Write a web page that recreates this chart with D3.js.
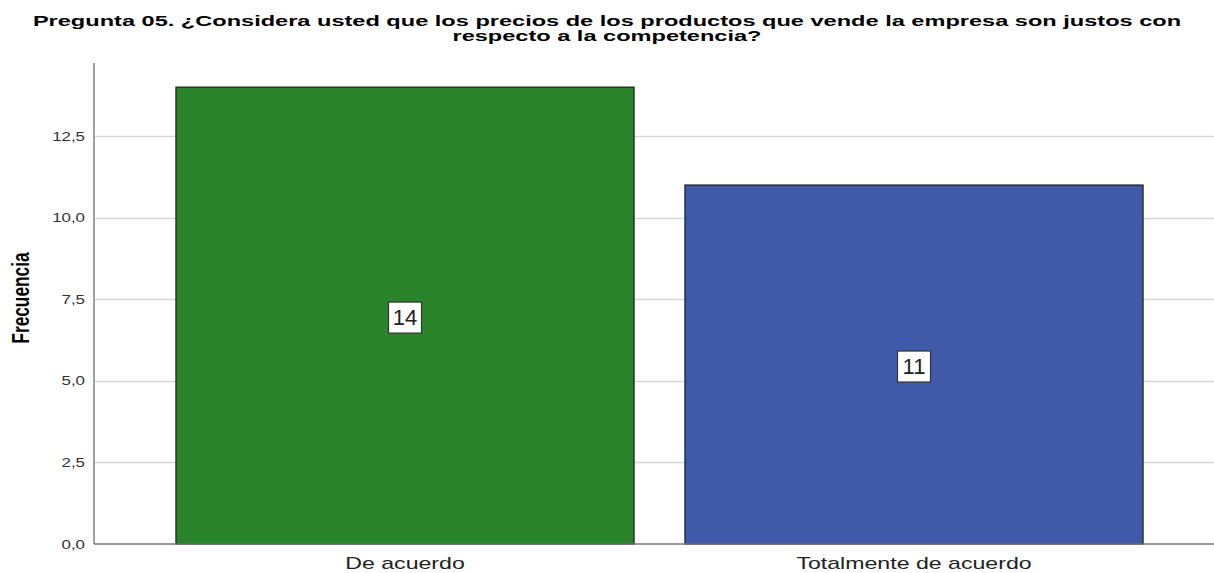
<!DOCTYPE html>
<html><head><meta charset="utf-8">
<script src="https://cdn.jsdelivr.net/npm/d3@7"></script>
<style>body{margin:0;background:#fff;} svg{display:block;font-family:"Liberation Sans",Arial,sans-serif;}</style>
</head><body>
<svg id="c" width="1214" height="573"></svg>
<script>
const categories = ["De acuerdo", "Totalmente de acuerdo"];
const values = [14, 11];
const colors = ["#2a852a", "#3e5aa8"];
const yTicks = [0, 2.5, 5, 7.5, 10, 12.5];
const titleLines = ["Pregunta 05. ¿Considera usted que los precios de los productos que vende la empresa son justos con", "respecto a la competencia?"];
const yLabel = "Frecuencia";

(function () {
const svg = d3.select("#c");
const pL = 94, pR = 1225, pT = 63, pB = 544;
const x = d3.scaleBand().domain(categories).range([pL, pR]).paddingInner(0.1).paddingOuter(0.161);
const y = d3.scaleLinear().domain([0, 14.74]).range([pB, pT]);
const fmt = d => d.toFixed(1).replace(".", ",");
const stretch = (sel, sx) => sel.each(function () {
  const w = this.getComputedTextLength();
  d3.select(this).attr("textLength", w * sx).attr("lengthAdjust", "spacingAndGlyphs");
});

// grid
svg.append("g").selectAll("line").data(yTicks.filter(d => d > 0)).join("line")
  .attr("x1", pL).attr("x2", 1214).attr("y1", d => Math.round(y(d)) + 0.5).attr("y2", d => Math.round(y(d)) + 0.5)
  .attr("stroke", "#d6d6d6").attr("stroke-width", 1.5);

// y axis
const ya = svg.append("g").attr("transform", `translate(${pL},0)`)
  .call(d3.axisLeft(y).tickValues(yTicks).tickFormat(fmt).tickSize(0).tickPadding(9));
ya.select(".domain").attr("stroke", "#a0a0a0").attr("stroke-width", 2).attr("d", `M0,${pT}V${pB}`);
ya.selectAll("text").attr("font-size", 12.5).attr("fill", "#333").attr("font-family", "Liberation Sans, Arial, sans-serif");
stretch(ya.selectAll("text"), 1.35);

// bars
svg.append("g").selectAll("rect").data(values).join("rect")
  .attr("x", (d, i) => x(categories[i])).attr("width", x.bandwidth())
  .attr("y", d => y(d)).attr("height", d => y(0) - y(d))
  .attr("fill", (d, i) => colors[i]).attr("stroke", "#1a1a1a").attr("stroke-width", 1.2);

// x axis
const xa = svg.append("g").attr("transform", `translate(0,${pB})`)
  .call(d3.axisBottom(x).tickSize(0).tickPadding(11));
xa.select(".domain").attr("stroke", "#777").attr("stroke-width", 1.5).attr("d", `M${pL},0H1214`);
xa.selectAll("text").attr("font-size", 17).attr("fill", "#222").attr("font-family", "Liberation Sans, Arial, sans-serif").attr("dy", "0.85em");
stretch(xa.selectAll("text"), 1.36);

// value labels
const lab = svg.append("g").selectAll("g").data(values).join("g")
  .attr("transform", (d, i) => `translate(${x(categories[i]) + x.bandwidth() / 2},${(y(d) + y(0)) / 2 + 2})`);
lab.append("rect").attr("x", -16.5).attr("y", -15.5).attr("width", 33).attr("height", 31)
  .attr("fill", "#fff").attr("stroke", "#333").attr("stroke-width", 1.2);
lab.append("text").text(d => d).attr("text-anchor", "middle").attr("dy", "0.36em")
  .attr("font-size", 22).attr("fill", "#222");

// title
const tt = svg.append("g").selectAll("text").data(titleLines).join("text")
  .attr("x", 607).attr("y", (d, i) => 26 + i * 15).attr("text-anchor", "middle")
  .attr("font-size", 15.5).attr("font-weight", "bold").attr("fill", "#000").text(d => d);
stretch(tt, 1.52);

// y label
svg.append("text").attr("transform", "translate(29,298) scale(1.4,1) rotate(-90)").attr("text-anchor", "middle")
  .attr("font-size", 17.3).attr("font-weight", "bold").attr("fill", "#000").text(yLabel);
})();
</script>
</body></html>
